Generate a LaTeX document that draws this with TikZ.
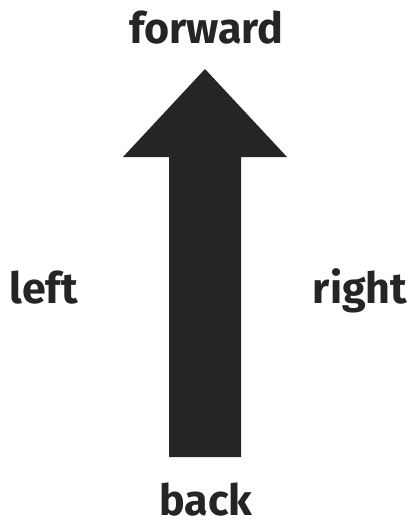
\documentclass[tikz,border=0pt]{standalone}
\usepackage{fontspec}
\setmainfont{Fira Sans}
\usepackage{tikz}
\usetikzlibrary{positioning}
\definecolor{ink}{HTML}{262425}

\begin{document}
\begin{tikzpicture}[x=1pt,y=-1pt,
    word/.style={text=ink,font=\bfseries\fontsize{43}{43}\selectfont,inner sep=0pt,anchor=base},
    arrowbody/.style={fill=ink,draw=none}]
  \useasboundingbox (0,0) rectangle (413,528);
  % the arrow
  \fill[arrowbody] (169,457) -- (169,157) -- (123,157) -- (205,69)
    -- (287,157) -- (241,157) -- (241,457) -- cycle;
  \node[word] (fwd)   at (206.5,43) {forward};
  \node[word] (lft)   at (43.5,303) {left};
  \node[word] (rgt)   at (360,303)  {right};
  \node[word] (bck)   at (206,515)  {back};
\end{tikzpicture}
\end{document}
